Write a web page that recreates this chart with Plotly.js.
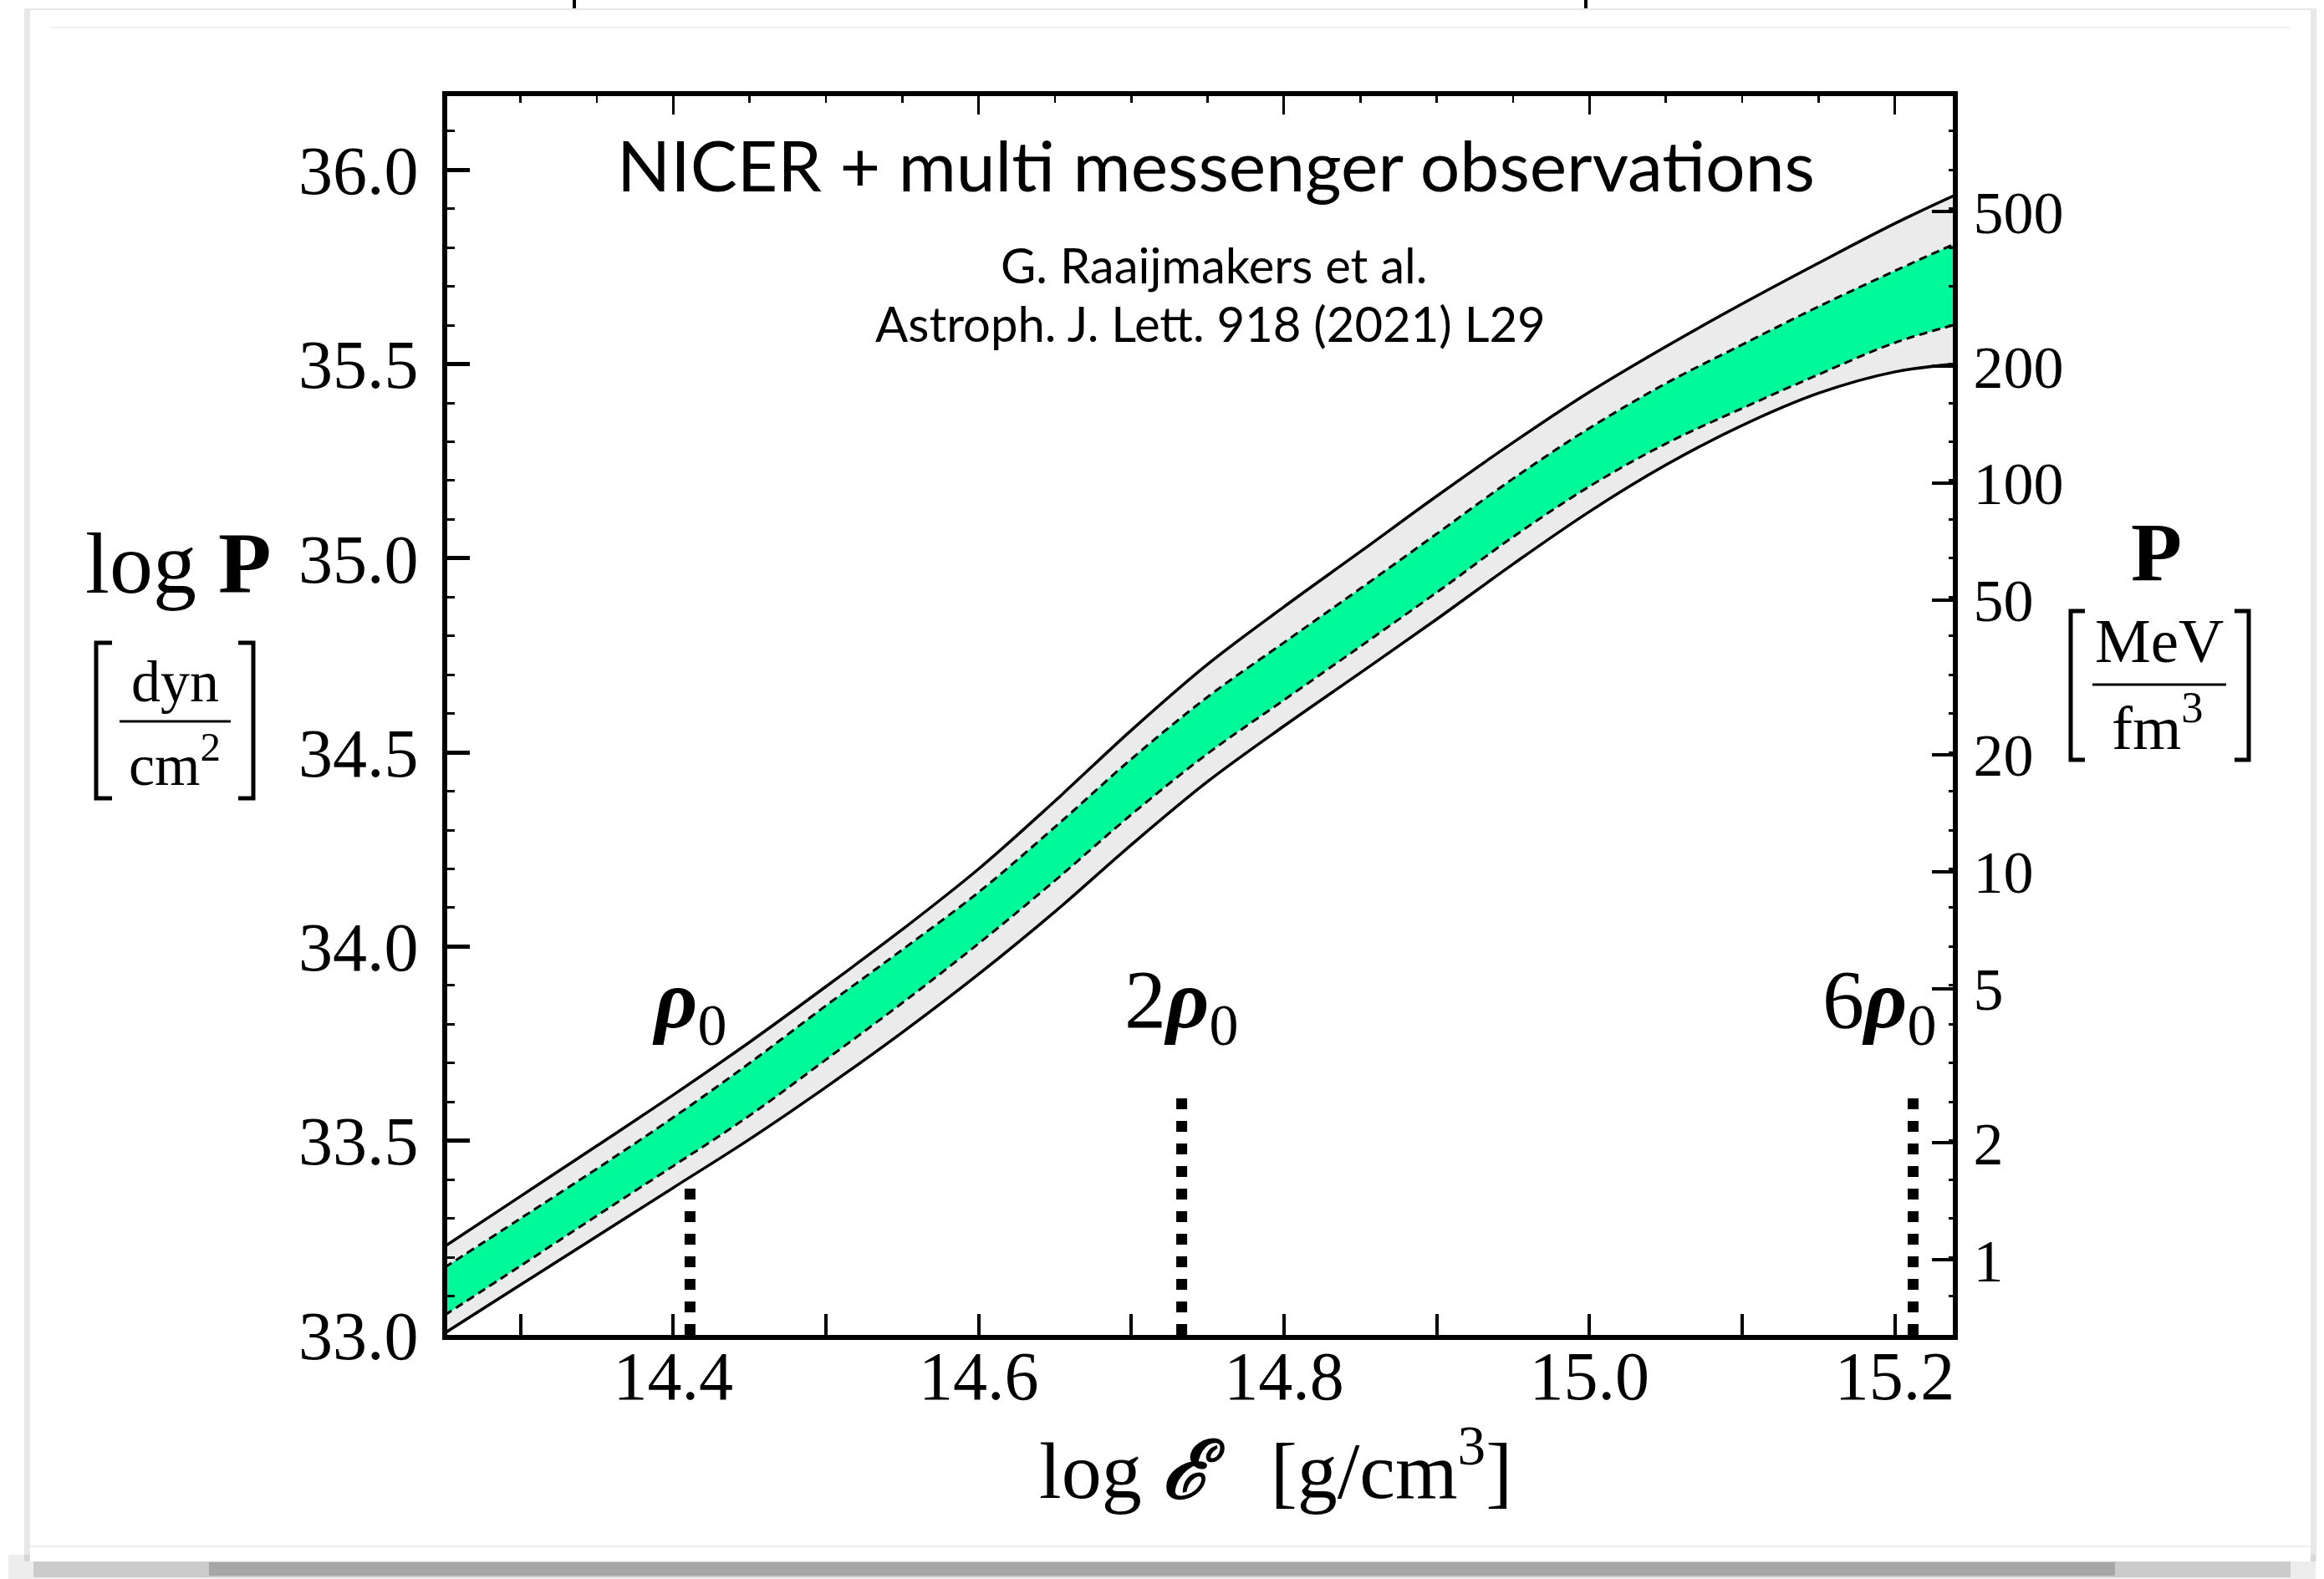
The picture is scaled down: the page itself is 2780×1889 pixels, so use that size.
<!DOCTYPE html>
<html>
<head>
<meta charset="utf-8">
<script src="https://cdn.plot.ly/plotly-3.0.1.min.js"></script>
<style>
html,body{margin:0;padding:0;background:#ffffff;}
#chart{width:2780px;height:1889px;}
</style>
</head>
<body>
<div id="chart"></div>
<script>
// ---------- data ----------
const logEps      = [14.25, 14.30, 14.35, 14.40, 14.45, 14.50, 14.55, 14.60, 14.65, 14.70, 14.75, 14.80, 14.85, 14.90, 14.95, 15.00, 15.05, 15.10, 15.15, 15.20, 15.24];
const upperOuter  = [33.227, 33.357, 33.487, 33.618, 33.754, 33.897, 34.044, 34.200, 34.375, 34.557, 34.727, 34.875, 35.017, 35.160, 35.298, 35.428, 35.545, 35.655, 35.760, 35.862, 35.936];
const upperInner  = [33.173, 33.300, 33.428, 33.560, 33.700, 33.848, 33.992, 34.140, 34.308, 34.483, 34.643, 34.783, 34.922, 35.063, 35.205, 35.335, 35.450, 35.550, 35.648, 35.740, 35.811];
const lowerInner  = [33.050, 33.178, 33.307, 33.435, 33.565, 33.709, 33.855, 34.008, 34.170, 34.340, 34.497, 34.635, 34.773, 34.912, 35.055, 35.185, 35.295, 35.386, 35.473, 35.555, 35.602];
const lowerOuter  = [33.004, 33.129, 33.254, 33.379, 33.504, 33.638, 33.779, 33.929, 34.090, 34.262, 34.425, 34.568, 34.705, 34.843, 34.985, 35.120, 35.240, 35.342, 35.425, 35.480, 35.500];

const densityMarkX   = [14.411, 14.733, 15.212];
const densityMarkTop = [33.385, 33.636, 33.635];
const densityLabels  = ['<b><i>ρ</i></b><sub>0</sub>', '2<b><i>ρ</i></b><sub>0</sub>', '6<b><i>ρ</i></b><sub>0</sub>'];

const xTickVals = [14.3, 14.4, 14.5, 14.6, 14.7, 14.8, 14.9, 15.0, 15.1, 15.2];
const xTickText = ['', '14.4', '', '14.6', '', '14.8', '', '15.0', '', '15.2'];
const topTickVals = [14.4, 14.6, 14.8, 15.0, 15.2];
const yTickVals = [33.0, 33.5, 34.0, 34.5, 35.0, 35.5, 36.0];
const yTickText = ['33.0', '33.5', '34.0', '34.5', '35.0', '35.5', '36.0'];
const pTickVals = [1, 2, 5, 10, 20, 50, 100, 200, 500];
const pTickText = ['1', '2', '5', '10', '20', '50', '100', '200', '500'];
const logPOffset = 33.193;   // log10 of (dyn/cm^2) per (MeV/fm^3), as drawn

const xRange = [14.252, 15.238];
const yRange = [33.0, 36.19];

// ---------- layout helpers (pixel -> paper) ----------
const W = 2780, H = 1889, ML = 535, MR = 444, MT = 115, MB = 292;
const PW = W - ML - MR, PH = H - MT - MB;
const px = X => (X - ML) / PW;
const py = Y => (H - MB - Y) / PH;

const SERIF = 'Liberation Serif, DejaVu Serif, serif';
const SANS = 'Lato, Open Sans, sans-serif';

// ---------- traces ----------
const spl = {shape: 'spline', smoothing: 1};
const clear = {width: 0, color: 'rgba(0,0,0,0)'};
const traces = [
  {x: logEps, y: lowerOuter, mode: 'lines', line: Object.assign({}, clear, spl)},
  {x: logEps, y: upperOuter, mode: 'lines', fill: 'tonexty', fillcolor: '#ebebeb', line: Object.assign({}, clear, spl)},
  {x: logEps, y: lowerInner, mode: 'lines', line: Object.assign({}, clear, spl)},
  {x: logEps, y: upperInner, mode: 'lines', fill: 'tonexty', fillcolor: '#00fa9a', line: Object.assign({}, clear, spl)},
  {x: logEps, y: lowerOuter, mode: 'lines', line: Object.assign({width: 3.5, color: '#000'}, spl)},
  {x: logEps, y: upperOuter, mode: 'lines', line: Object.assign({width: 3.5, color: '#000'}, spl)},
  {x: logEps, y: lowerInner, mode: 'lines', line: Object.assign({width: 3, color: '#000', dash: '10px,6px'}, spl)},
  {x: logEps, y: upperInner, mode: 'lines', line: Object.assign({width: 3, color: '#000', dash: '10px,6px'}, spl)}
];
// vertical dotted density markers
const mx = [], my = [];
densityMarkX.forEach((v, i) => { mx.push(v, v, null); my.push(yRange[0], densityMarkTop[i], null); });
traces.push({x: mx, y: my, mode: 'lines', connectgaps: false, line: {width: 13, color: '#000', dash: '13px,14px'}});
// invisible carriers so that the secondary (top / right) axes are drawn
traces.push({x: logEps, y: upperOuter.map(v => Math.pow(10, v - logPOffset)), xaxis: 'x', yaxis: 'y2', mode: 'lines', line: clear});
traces.push({x: logEps, y: upperOuter, xaxis: 'x2', yaxis: 'y3', mode: 'lines', line: clear});

// ---------- annotations ----------
const annotations = [
  {xref: 'paper', yref: 'paper', x: px(1454), y: py(196), text: 'NICER + multi messenger observations',
   showarrow: false, xanchor: 'center', yanchor: 'middle', font: {family: SANS, size: 84, color: '#000'}},
  {xref: 'paper', yref: 'paper', x: px(1452), y: py(316), text: 'G. Raaijmakers et al.',
   showarrow: false, xanchor: 'center', yanchor: 'middle', font: {family: SANS, size: 58, color: '#000'}},
  {xref: 'paper', yref: 'paper', x: px(1448), y: py(386), text: 'Astroph. J. Lett. 918 (2021) L29',
   showarrow: false, xanchor: 'center', yanchor: 'middle', font: {family: SANS, size: 58, color: '#000'}},
  // left axis title
  {xref: 'paper', yref: 'paper', x: px(213), y: py(674), text: 'log <b>P</b>',
   showarrow: false, xanchor: 'center', yanchor: 'middle', font: {family: SERIF, size: 104, color: '#000'}},
  {xref: 'paper', yref: 'paper', x: px(209), y: py(815), text: 'dyn',
   showarrow: false, xanchor: 'center', yanchor: 'middle', font: {family: SERIF, size: 70, color: '#000'}},
  {xref: 'paper', yref: 'paper', x: px(209), y: py(910), text: 'cm<sup>2</sup>',
   showarrow: false, xanchor: 'center', yanchor: 'middle', font: {family: SERIF, size: 70, color: '#000'}},
  // right axis title
  {xref: 'paper', yref: 'paper', x: px(2579), y: py(660), text: '<b>P</b>',
   showarrow: false, xanchor: 'center', yanchor: 'middle', font: {family: SERIF, size: 100, color: '#000'}},
  {xref: 'paper', yref: 'paper', x: px(2583), y: py(766), text: 'MeV',
   showarrow: false, xanchor: 'center', yanchor: 'middle', font: {family: SERIF, size: 75, color: '#000'}},
  {xref: 'paper', yref: 'paper', x: px(2581), y: py(864), text: 'fm<sup>3</sup>',
   showarrow: false, xanchor: 'center', yanchor: 'middle', font: {family: SERIF, size: 75, color: '#000'}},
  // bottom axis title
  {xref: 'paper', yref: 'paper', x: px(1526), y: py(1752), text: 'log <b><i>ℰ</i></b>\u00a0\u00a0 [g/cm<sup>3</sup>]',
   showarrow: false, xanchor: 'center', yanchor: 'middle', font: {family: SERIF, size: 96, color: '#000'}}
];
const labelShift = [0, 0, -40];
densityMarkX.forEach((v, i) => {
  annotations.push({xref: 'x', yref: 'y', x: v, y: 33.85, text: densityLabels[i], showarrow: false,
    xanchor: 'center', yanchor: 'middle', xshift: labelShift[i], font: {family: SERIF, size: 100, color: '#000'}});
});

// ---------- shapes ----------
const pathOf = pts => pts.map((p, i) => (i ? 'L' : 'M') + px(p[0]).toFixed(5) + ',' + py(p[1]).toFixed(5)).join(' ');
const shapes = [
  // card and its shadow
  {type: 'rect', xref: 'paper', yref: 'paper', layer: 'below', x0: px(10), x1: px(2770), y0: py(1860), y1: py(1889), fillcolor: 'rgba(0,0,0,0.07)', line: {width: 0}},
  {type: 'rect', xref: 'paper', yref: 'paper', layer: 'below', x0: px(40), x1: px(2740), y0: py(1866), y1: py(1887), fillcolor: 'rgba(0,0,0,0.14)', line: {width: 0}},
  {type: 'rect', xref: 'paper', yref: 'paper', layer: 'below', x0: px(250), x1: px(2530), y0: py(1869), y1: py(1885), fillcolor: 'rgba(0,0,0,0.18)', line: {width: 0}},
  {type: 'rect', xref: 'paper', yref: 'paper', layer: 'below', x0: px(29), x1: px(2771), y0: py(1868), y1: py(10), fillcolor: 'rgba(0,0,0,0.09)', line: {width: 0}},
  {type: 'rect', xref: 'paper', yref: 'paper', layer: 'below', x0: px(36), x1: px(2764), y0: py(1868), y1: py(12), fillcolor: '#ffffff', line: {width: 0}},
  {type: 'line', xref: 'paper', yref: 'paper', layer: 'below', x0: px(60), x1: px(2740), y0: py(33), y1: py(33), line: {width: 2, color: '#f0f0f0'}},
  {type: 'line', xref: 'paper', yref: 'paper', layer: 'below', x0: px(36), x1: px(2764), y0: py(1850), y1: py(1850), line: {width: 2, color: '#eeeeee'}},
  // fragments of the cropped slide heading above the card
  {type: 'line', xref: 'paper', yref: 'paper', x0: px(687), x1: px(687), y0: py(0), y1: py(10), line: {width: 4, color: '#000'}},
  {type: 'line', xref: 'paper', yref: 'paper', x0: px(1897), x1: px(1897), y0: py(0), y1: py(10), line: {width: 4, color: '#000'}},
  // fraction bars
  {type: 'line', xref: 'paper', yref: 'paper', x0: px(143), x1: px(276), y0: py(863), y1: py(863), line: {width: 3, color: '#000'}},
  {type: 'line', xref: 'paper', yref: 'paper', x0: px(2503), x1: px(2663), y0: py(819), y1: py(819), line: {width: 3, color: '#000'}},
  // brackets
  {type: 'path', xref: 'paper', yref: 'paper', path: pathOf([[134, 769], [115, 769], [115, 955], [134, 955]]), line: {width: 5, color: '#000'}},
  {type: 'path', xref: 'paper', yref: 'paper', path: pathOf([[285, 769], [303, 769], [303, 955], [285, 955]]), line: {width: 5, color: '#000'}},
  {type: 'path', xref: 'paper', yref: 'paper', path: pathOf([[2494, 731], [2477, 731], [2477, 909], [2494, 909]]), line: {width: 5, color: '#000'}},
  {type: 'path', xref: 'paper', yref: 'paper', path: pathOf([[2673, 731], [2690, 731], [2690, 909], [2673, 909]]), line: {width: 5, color: '#000'}}
];

// ---------- layout ----------
const layout = {
  width: W, height: H,
  margin: {l: ML, r: MR, t: MT, b: MB, pad: 0},
  paper_bgcolor: '#ffffff',
  plot_bgcolor: 'rgba(0,0,0,0)',
  showlegend: false,
  hovermode: false,
  xaxis: {
    range: xRange, tickmode: 'array', tickvals: xTickVals, ticktext: xTickText,
    ticks: 'inside', ticklen: 25, tickwidth: 4, tickcolor: '#000',
    showline: true, linewidth: 6, linecolor: '#000', showgrid: false, zeroline: false,
    tickfont: {family: SERIF, size: 82, color: '#000'}, ticklabelstandoff: -27
  },
  xaxis2: {
    overlaying: 'x', side: 'top', range: xRange, tickmode: 'array', tickvals: topTickVals,
    ticks: 'inside', ticklen: 22, tickwidth: 3, tickcolor: '#000', showticklabels: false,
    minor: {tickmode: 'linear', tick0: 14.4, dtick: 0.05, ticks: 'inside', ticklen: 8, tickwidth: 2.5, tickcolor: '#000'},
    showline: true, linewidth: 6, linecolor: '#000', showgrid: false, zeroline: false
  },
  yaxis: {
    range: yRange, tickmode: 'array', tickvals: yTickVals, ticktext: yTickText,
    ticks: 'inside', ticklen: 27, tickwidth: 5, tickcolor: '#000',
    minor: {tickmode: 'linear', tick0: 33, dtick: 0.1, ticks: 'inside', ticklen: 9, tickwidth: 3, tickcolor: '#000'},
    showline: true, linewidth: 6, linecolor: '#000', showgrid: false, zeroline: false,
    tickfont: {family: SERIF, size: 82, color: '#000'}, ticklabelstandoff: 12
  },
  yaxis2: {
    overlaying: 'y', side: 'right', type: 'log',
    range: [yRange[0] - logPOffset, yRange[1] - logPOffset],
    tickmode: 'array', tickvals: pTickVals, ticktext: pTickText,
    ticks: 'inside', ticklen: 25, tickwidth: 4, tickcolor: '#000',
    showline: true, linewidth: 6, linecolor: '#000', showgrid: false, zeroline: false,
    tickfont: {family: SERIF, size: 72, color: '#000'}, ticklabelstandoff: 4
  },
  yaxis3: {
    overlaying: 'y', side: 'right', range: yRange, tickmode: 'linear', tick0: 33, dtick: 0.1,
    ticks: 'inside', ticklen: 5, tickwidth: 3, tickcolor: '#000', showticklabels: false,
    showline: false, showgrid: false, zeroline: false
  },
  annotations: annotations,
  shapes: shapes
};

traces.forEach(t => { t.showlegend = false; t.hoverinfo = 'skip'; });
Plotly.newPlot('chart', traces, layout, {staticPlot: true, displayModeBar: false});
</script>
</body>
</html>
